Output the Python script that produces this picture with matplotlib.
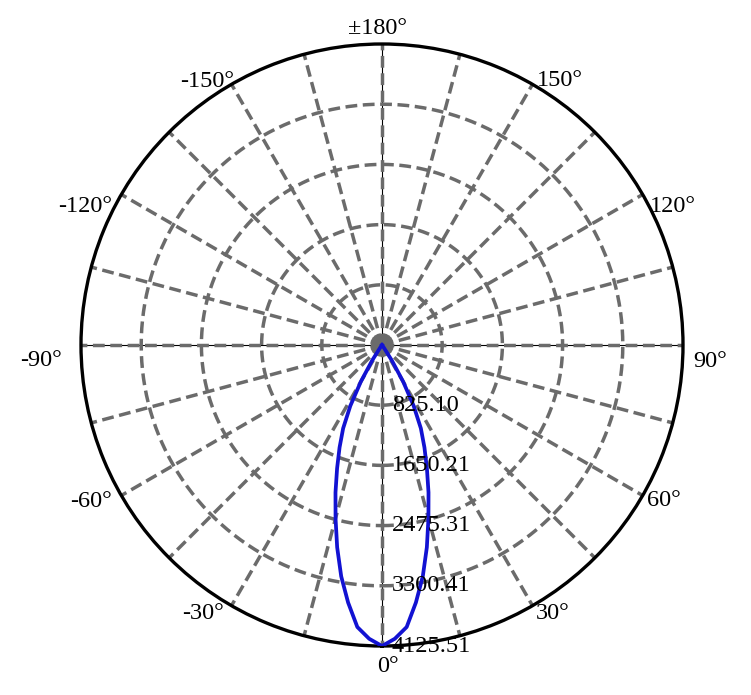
import numpy as np
import matplotlib.pyplot as plt

# ---- data ----
angles = [-90, -60, -45, -40, -37.5, -35, -32.5, -30, -27.5, -25, -22.5, -20, -17.5, -15, -12.5,
          -10, -7.5, -5, -2.5, 0, 2.5, 5, 7.5, 10, 12.5, 15, 17.5, 20, 22.5, 25, 27.5, 30,
          32.5, 35, 37.5, 40, 45, 60, 90]
intensity = [0, 0, 0, 0, 0, 40, 250, 580, 940, 1260, 1520, 1800, 2120, 2460, 2840,
             3220, 3560, 3880, 4030, 4125.51, 4030, 3880, 3560, 3220, 2840, 2460, 2120, 1800,
             1520, 1260, 940, 580, 250, 40, 0, 0, 0, 0, 0]
r_ticks = [825.10, 1650.21, 2475.31, 3300.41, 4125.51]
r_max = 4125.51
theta_grid = list(range(0, 360, 15))
theta_labels = [0, 30, 60, 90, 120, 150, 180, -150, -120, -90, -60, -30]
label_text = ['0°', '30°', '60°', '90°', '120°', '150°', '±180°',
              '-150°', '-120°', '-90°', '-60°', '-30°']

# label offsets in pixels (dx, dy, ha)
label_pos = {
    0: (6, -20, 'center'), 30: (3, -8, 'left'), 60: (4, -5, 'left'),
    90: (10, -16, 'left'), 120: (7, -12, 'left'), 150: (4, 4, 'left'),
    180: (-5, 16, 'center'), -150: (3, 3, 'right'), -120: (-9, -12, 'right'),
    -90: (-19, -16, 'right'), -60: (-9, -6, 'right'), -30: (-8, -8, 'right'),
}

font = 'Liberation Serif'
grey = '#6b6b6b'
fs = 17.5

fig = plt.figure(figsize=(7.51, 6.95), dpi=100)
ax = fig.add_axes([81 / 751, 49 / 695, 602 / 751, 602 / 695], projection='polar')
ax.set_theta_zero_location('S')
ax.set_theta_direction(1)
ax.set_ylim(0, r_max)
ax.grid(False)
ax.set_xticks([])
ax.set_yticks([])
ax.spines['polar'].set_linewidth(2.4)
ax.spines['polar'].set_color('black')

dash = (0, (3.4, 1.6))
lw_grid = 2.5

# thin black axis lines
for th in [0, 90, 180, 270]:
    ax.plot(np.radians([th, th]), [0, r_max], color='black', lw=0.8, zorder=1)

# dashed rays from centre
for th in theta_grid:
    ax.plot(np.radians([th, th]), [0, r_max], color=grey, lw=lw_grid,
            linestyle=dash, zorder=2)

# dashed circles
circ = np.linspace(0, 2 * np.pi, 721)
for r in r_ticks[:-1]:
    ax.plot(circ, np.full_like(circ, r), color=grey, lw=lw_grid, linestyle=dash, zorder=2)

# intensity curve
ax.plot(np.radians(angles), intensity, color='#1212d2', lw=2.7, zorder=4)

# angle labels
for th, txt in zip(theta_labels, label_text):
    dx, dy, ha = label_pos[th]
    ax.annotate(txt, xy=(np.radians(th), r_max), xytext=(dx, dy),
                textcoords='offset pixels', ha=ha, va='center',
                fontsize=fs, family=font, annotation_clip=False, zorder=5)

# radial labels
for r in r_ticks:
    ax.annotate(f'{r:.2f}', xy=(0, r), xytext=(10, 0), textcoords='offset pixels',
                ha='left', va='center', fontsize=fs, family=font,
                annotation_clip=False, zorder=5)

fig.savefig('out.png', dpi=100)
